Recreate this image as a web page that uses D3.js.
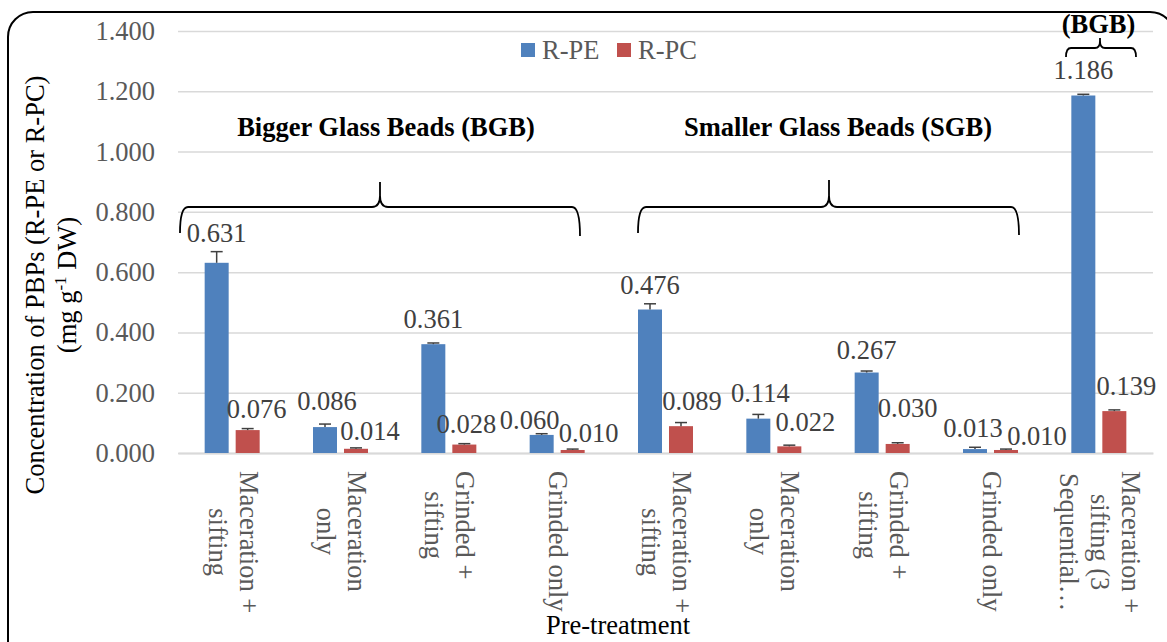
<!DOCTYPE html>
<html>
<head>
<meta charset="utf-8">
<script src="https://cdn.jsdelivr.net/npm/d3@7"></script>
<style>
  html, body { margin: 0; padding: 0; background: #fff; }
  svg { display: block; }
  svg text { font-family: "Liberation Serif", "Times New Roman", serif; }
</style>
</head>
<body>
<svg id="chart" width="1167" height="642"></svg>
<script>
// Pre-treatment groups (line breaks as they wrap under the axis)
const categories = [
  "Maceration +\nsifting",
  "Maceration\nonly",
  "Grinded +\nsifting",
  "Grinded only",
  "Maceration +\nsifting",
  "Maceration\nonly",
  "Grinded +\nsifting",
  "Grinded only",
  "Maceration +\nsifting (3\nSequential\u2026"
];
const series = ["R-PE", "R-PC"];
const rpeValues = [0.631, 0.086, 0.361, 0.060, 0.476, 0.114, 0.267, 0.013, 1.186];
const rpcValues = [0.076, 0.014, 0.028, 0.010, 0.089, 0.022, 0.030, 0.010, 0.139];
const rpeErrors = [0.037, 0.010, 0.004, 0.004, 0.019, 0.014, 0.005, 0.006, 0.004];
const rpcErrors = [0.005, 0.003, 0.003, 0.003, 0.012, 0.004, 0.004, 0.003, 0.004];
const yTickValues = [0, 0.2, 0.4, 0.6, 0.8, 1.0, 1.2, 1.4];

// Label placement tweaks [dx, baseline offset from bar top]
const rpeLabelShift = [[0,-21],[2,-17],[0,-16],[-12,-6],[0,-16],[2,-17],[0,-14],[-2,-12],[0,-17]];
const rpcLabelShift = [[9,-12],[14,-9],[2,-12],[16,-8],[11,-16],[16,-15],[10,-27],[31,-5],[12,-16]];

const colors = { "R-PE": "#4F81BD", "R-PC": "#C0504D" };
const FONT = 26.5;

const svg = d3.select("#chart");
const plot = { left: 178, right: 1153, top: 31, bottom: 453 };

// Outer rounded frame
svg.append("rect")
  .attr("x", 8).attr("y", 12).attr("width", 1167).attr("height", 660)
  .attr("rx", 25).attr("ry", 25)
  .attr("fill", "none").attr("stroke", "#000").attr("stroke-width", 2);

const x0 = d3.scaleBand()
  .domain(d3.range(categories.length))
  .range([plot.left, plot.right])
  .paddingInner(0).paddingOuter(0);

const bw = x0.bandwidth();
const x1 = d3.scaleBand()
  .domain(series)
  .range([(bw - 55) / 2, (bw + 55) / 2])
  .paddingInner(7 / 31).paddingOuter(0);

const y = d3.scaleLinear().domain([0, 1.4]).range([plot.bottom, plot.top]);

// Gridlines and y tick labels
const yAxis = d3.axisLeft(y)
  .tickValues(yTickValues)
  .tickSize(-(plot.right - plot.left))
  .tickPadding(23)
  .tickFormat(d3.format(".3f"));

const ya = svg.append("g")
  .attr("transform", `translate(${plot.left},0)`)
  .call(yAxis)
  .attr("font-family", null).attr("font-size", null);
ya.select(".domain").remove();
ya.selectAll(".tick line").attr("stroke", "#d9d9d9").attr("stroke-width", 1.5);
ya.selectAll(".tick text")
  .attr("fill", "#595959")
  .attr("font-size", FONT)
  .attr("dy", "0.32em");

// Category axis line
const xa = svg.append("g")
  .attr("transform", `translate(0,${plot.bottom})`)
  .call(d3.axisBottom(x0).tickSize(0).tickFormat(""));
xa.select(".domain").attr("stroke", "#d9d9d9").attr("stroke-width", 2);

// Data rows
const rows = categories.map((c, i) => ({
  i,
  vals: [
    { key: "R-PE", v: rpeValues[i], e: rpeErrors[i], s: rpeLabelShift[i] },
    { key: "R-PC", v: rpcValues[i], e: rpcErrors[i], s: rpcLabelShift[i] }
  ]
}));

const barLayer = svg.append("g");
const labelLayer = svg.append("g");

const groups = barLayer.selectAll("g")
  .data(rows).join("g")
  .attr("transform", d => `translate(${x0(d.i)},0)`);

groups.selectAll("rect")
  .data(d => d.vals).join("rect")
  .attr("x", d => x1(d.key))
  .attr("y", d => y(d.v))
  .attr("width", x1.bandwidth())
  .attr("height", d => y(0) - y(d.v))
  .attr("fill", d => colors[d.key]);

// Error bars (plus direction)
const eb = groups.selectAll("g.err")
  .data(d => d.vals).join("g").attr("class", "err");
eb.append("line")
  .attr("x1", d => x1(d.key) + x1.bandwidth() / 2)
  .attr("x2", d => x1(d.key) + x1.bandwidth() / 2)
  .attr("y1", d => y(d.v))
  .attr("y2", d => y(d.v + d.e))
  .attr("stroke", "#404040").attr("stroke-width", 1.5);
eb.append("line")
  .attr("x1", d => x1(d.key) + x1.bandwidth() / 2 - 6)
  .attr("x2", d => x1(d.key) + x1.bandwidth() / 2 + 6)
  .attr("y1", d => y(d.v + d.e))
  .attr("y2", d => y(d.v + d.e))
  .attr("stroke", "#404040").attr("stroke-width", 1.5);

// Value labels, drawn above every bar
labelLayer.selectAll("g")
  .data(rows).join("g")
  .attr("transform", d => `translate(${x0(d.i)},0)`)
  .selectAll("text")
  .data(d => d.vals).join("text")
  .attr("x", d => x1(d.key) + x1.bandwidth() / 2 + d.s[0])
  .attr("y", d => y(d.v) + d.s[1])
  .attr("text-anchor", "middle")
  .attr("font-size", FONT)
  .attr("fill", "#404040")
  .text(d => d3.format(".3f")(d.v));

// Rotated category labels
const LINE = 31;
const labelTop = 471;
categories.forEach((label, i) => {
  const lines = label.split("\n");
  const cx = x0(i) + bw / 2;
  const g = svg.append("g")
    .attr("transform", `translate(${cx},${labelTop}) rotate(90)`);
  const texts = lines.map((t, k) => g.append("text")
    .attr("y", 8 - (lines.length - 1) / 2 * LINE + k * LINE)
    .attr("text-anchor", "middle")
    .attr("font-size", FONT)
    .attr("fill", "#595959")
    .text(t));
  const maxLen = d3.max(texts, t => t.node().getComputedTextLength());
  texts.forEach(t => t.attr("x", maxLen / 2));
});

// Axis titles
const yt = svg.append("g").attr("transform", "translate(44,285) rotate(-90)");
yt.append("text").attr("text-anchor", "middle").attr("font-size", FONT).attr("fill", "#000")
  .text("Concentration of PBPs (R-PE or R-PC)");
const yt2 = yt.append("text").attr("y", 32).attr("text-anchor", "middle")
  .attr("font-size", FONT).attr("fill", "#000");
yt2.append("tspan").text("(mg g");
yt2.append("tspan").attr("font-size", 17).attr("dy", -10).text("-1");
yt2.append("tspan").attr("dy", 10).text(" DW)");

svg.append("text")
  .attr("x", 618).attr("y", 634)
  .attr("text-anchor", "middle")
  .attr("font-size", FONT).attr("fill", "#000")
  .text("Pre-treatment");

// Legend
const legend = svg.append("g");
const legendX = [521, 617];
series.forEach((s, k) => {
  legend.append("rect")
    .attr("x", legendX[k]).attr("y", 43).attr("width", 14).attr("height", 14)
    .attr("fill", colors[s]);
  legend.append("text")
    .attr("x", legendX[k] + 21).attr("y", 59)
    .attr("font-size", FONT).attr("fill", "#595959")
    .text(s);
});

// Group annotations with braces
const notes = [
  { text: "Bigger Glass Beads (BGB)", x: 386, y: 136 },
  { text: "Smaller Glass Beads (SGB)", x: 838, y: 136 },
  { text: "(BGB)", x: 1098.5, y: 33 }
];
svg.selectAll("text.note").data(notes).join("text").attr("class", "note")
  .attr("x", d => d.x).attr("y", d => d.y)
  .attr("text-anchor", "middle")
  .attr("font-size", FONT).attr("font-weight", "bold").attr("fill", "#000")
  .text(d => d.text);

function brace(xl, xm, xr, yh, ytip, yl, yr, r) {
  return `M${xl},${yl} Q${xl},${yh} ${xl + r},${yh} L${xm - r},${yh} Q${xm},${yh} ${xm},${yh - r * 1.4} L${xm},${ytip}`
    + ` M${xm},${yh - r * 1.4} Q${xm},${yh} ${xm + r},${yh} L${xr - r},${yh} Q${xr},${yh} ${xr},${yr}`;
}
const braces = [
  brace(180, 380, 580, 207, 182, 233, 236, 8),
  brace(638, 829, 1019, 207, 180, 233, 235, 8),
  brace(1066, 1100, 1136, 48, 38, 57, 57, 5)
];
svg.selectAll("path.brace").data(braces).join("path").attr("class", "brace")
  .attr("d", d => d)
  .attr("fill", "none").attr("stroke", "#000").attr("stroke-width", 1.8);
</script>
</body>
</html>
